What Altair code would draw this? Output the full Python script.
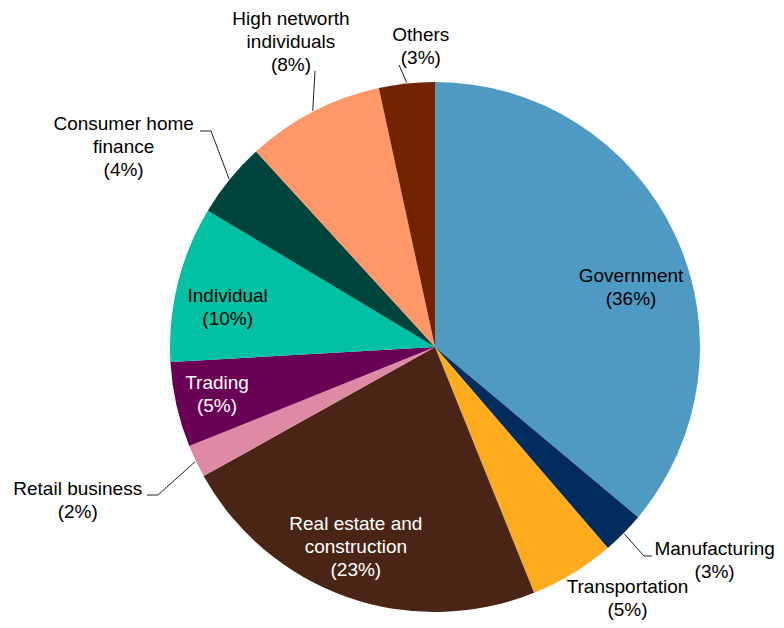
import math
import altair as alt
import pandas as pd

# ---- data ----
categories = ["Government", "Manufacturing", "Transportation",
              "Real estate and construction", "Retail business", "Trading",
              "Individual", "Consumer home finance",
              "High networth individuals", "Others"]
shares = [36.1, 2.6, 5.2, 23.0, 2.0, 5.2, 9.5, 4.6, 8.4, 3.4]
pct_labels = ["36%", "3%", "5%", "23%", "2%", "5%", "10%", "4%", "8%", "3%"]
label_text = ["Government", "Manufacturing", "Transportation",
              "Real estate and\nconstruction", "Retail business", "Trading",
              "Individual", "Consumer home\nfinance",
              "High networth\nindividuals", "Others"]

# ---- styles / layout ----
colors = ["#4F9AC3", "#002D5E", "#FEAB1E", "#4A2515", "#DF8AA4",
          "#6A0056", "#00C1A3", "#00443E", "#FF9769", "#722300"]
text_colors = ["black", "black", "black", "white", "black",
               "white", "black", "black", "black", "black"]
# label centre, polar around pie centre: (angle deg clockwise from top, radius px)
label_polar = [(73.0, 205), (127.4, 352), (142.6, 317), (201.6, 215),
               (246.7, 389), (257.8, 223), (280.7, 211), (302.7, 370),
               (334.7, 337), (357.3, 301)]
# leader line extra points (page px) after the slice-edge start point
leader_pts = {1: [(644, 556), (652, 556)],
              4: [(158, 495), (147, 495)],
              7: [(211, 131), (200, 131)],
              8: [(315, 71)],
              9: [(399, 65)]}

W, H = 768, 612
CX, CY = 435 - 8, 347 - 8   # pie centre in plot coordinates
R = 265
FONT = "Liberation Sans"
FS = 19
LH = 23

df = pd.DataFrame({"category": categories, "share": shares,
                   "idx": list(range(len(categories))), "color": colors})

pie = alt.Chart(df).mark_arc(radius=R, stroke=None).encode(
    theta=alt.Theta("share:Q", stack=True),
    order=alt.Order("idx:Q"),
    color=alt.Color("color:N", scale=None),
    x=alt.value(CX), y=alt.value(CY),
)

total = sum(shares)
cum = 0.0
mids = []
for s in shares:
    mids.append((cum + s / 2) / total * 2 * math.pi)
    cum += s

lab_rows = []
for i, (ang, r) in enumerate(label_polar):
    a = math.radians(ang)
    txt = f"{label_text[i]}\n({pct_labels[i]})"
    n = txt.count("\n") + 1
    lab_rows.append({"x": CX + r * math.sin(a),
                     "y": CY - r * math.cos(a) - (n - 1) * LH / 2,
                     "text": txt, "tc": text_colors[i]})
lab_df = pd.DataFrame(lab_rows)

labels = alt.Chart(lab_df).mark_text(
    font=FONT, fontSize=FS, lineBreak="\n", lineHeight=LH,
    align="center", baseline="middle"
).encode(
    x=alt.X("x:Q", scale=None), y=alt.Y("y:Q", scale=None),
    text="text:N", color=alt.Color("tc:N", scale=None),
)

line_rows = []
for i, pts in leader_pts.items():
    a = mids[i]
    line_rows.append({"g": i, "o": 0, "x": CX + (R + 1) * math.sin(a),
                      "y": CY - (R + 1) * math.cos(a)})
    for k, (px, py) in enumerate(pts):
        line_rows.append({"g": i, "o": k + 1, "x": px - 8, "y": py - 8})
line_df = pd.DataFrame(line_rows)

leaders = alt.Chart(line_df).mark_line(color="#222222", strokeWidth=1).encode(
    x=alt.X("x:Q", scale=None), y=alt.Y("y:Q", scale=None),
    detail="g:N", order="o:Q",
)

chart = alt.layer(pie, leaders, labels).properties(
    width=W, height=H, padding=0,
    autosize=alt.AutoSizeParams(type="none"),
).configure_view(stroke=None)

chart.save("out.html", embed_options={"renderer": "svg", "actions": False})
